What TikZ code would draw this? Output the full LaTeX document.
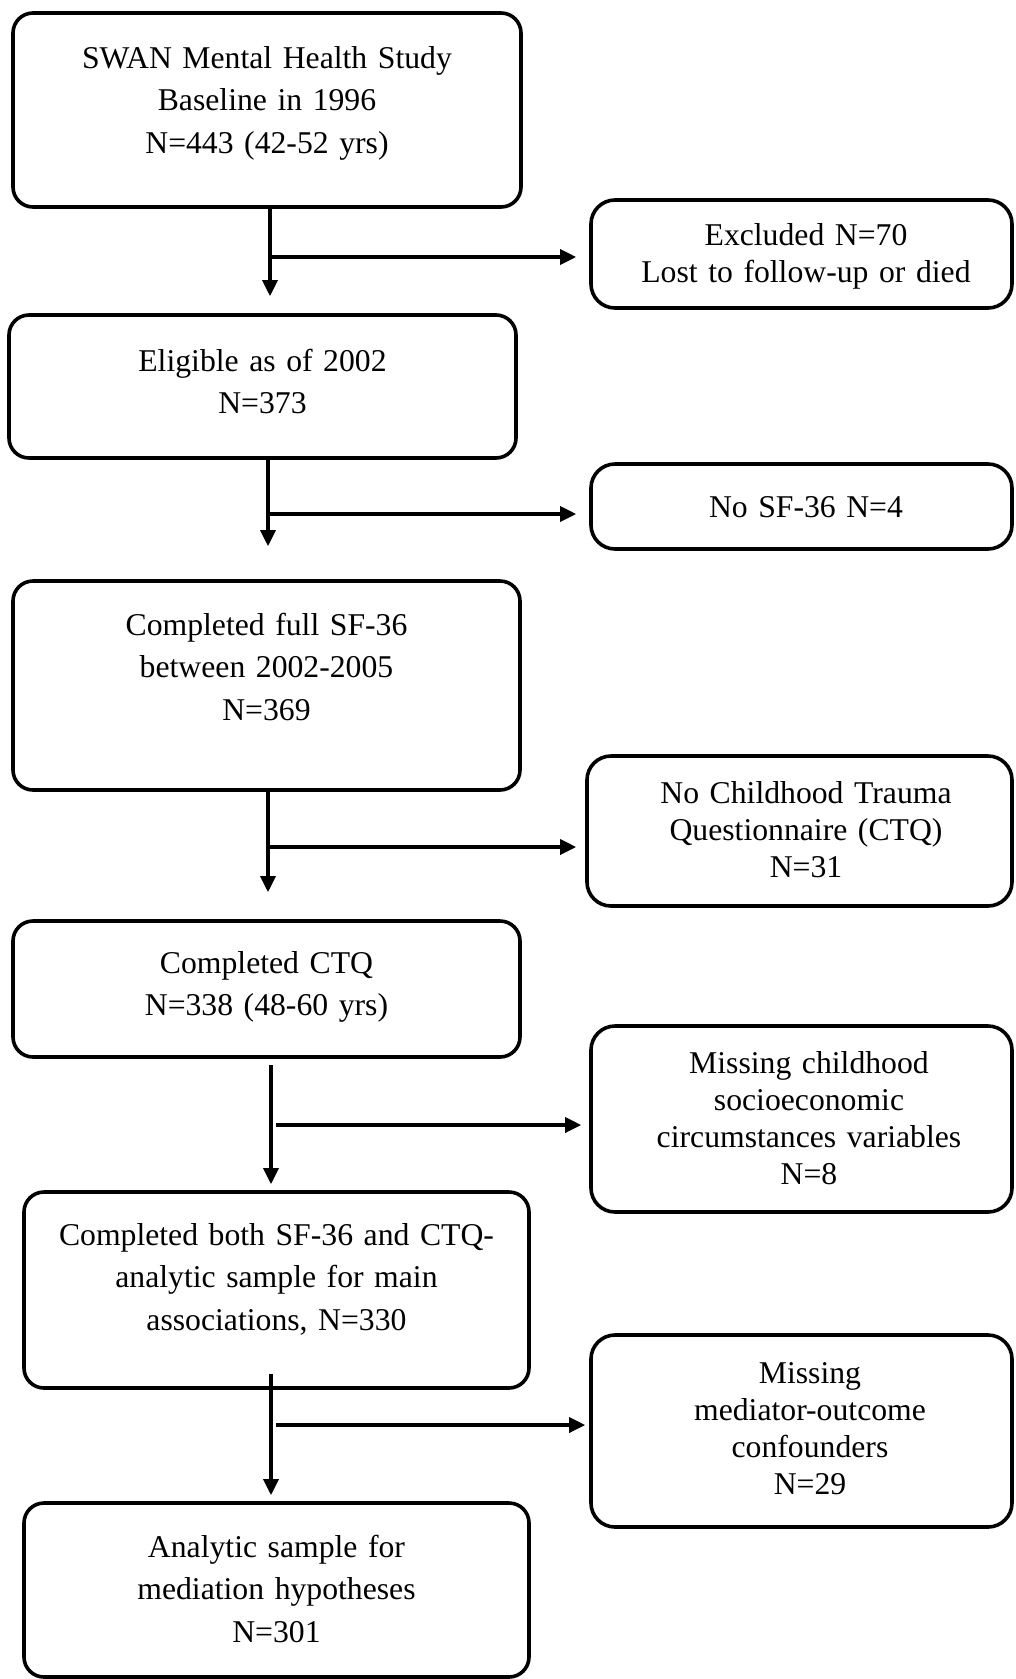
\documentclass[tikz,border=0pt]{standalone}
\usepackage{fontspec}
\setmainfont{Liberation Serif}
\usetikzlibrary{arrows.meta,calc}
\begin{document}
\begin{tikzpicture}[x=1pt,y=-1pt,
  box/.style={draw, line width=3.6pt, inner sep=0pt},
  lbox/.style={box, rounded corners=20pt},
  rbox/.style={box, rounded corners=24pt},
  ltxt/.style={anchor=base, align=center, inner sep=0pt, text width=500pt,
    font=\fontsize{31.7}{42.5}\selectfont},
  rtxt/.style={anchor=base, align=center, inner sep=0pt, text width=420pt,
    font=\fontsize{31.7}{37}\selectfont},
  arr/.style={line width=3.4pt, -{Triangle[length=16pt,width=15pt]}}]
\useasboundingbox (0,0) rectangle (1015,1679);

% main column
\node[lbox, minimum width=508pt, minimum height=194pt] (b1) at (267,110) {};
\node[lbox, minimum width=507pt, minimum height=143pt] (b2) at (262.5,386.5) {};
\node[lbox, minimum width=507pt, minimum height=209pt] (b3) at (266.5,685.5) {};
\node[lbox, minimum width=507pt, minimum height=136pt] (b4) at (266.5,989) {};
\node[lbox, minimum width=505pt, minimum height=196pt] (b5) at (276.5,1290) {};
\node[lbox, minimum width=505pt, minimum height=174pt] (b6) at (276.5,1590) {};

\node[ltxt] (t1) at (267,68) {SWAN Mental Health Study\\Baseline in 1996\\N=443 (42-52 yrs)};
\node[ltxt] (t2) at (262.5,371) {Eligible as of 2002\\N=373};
\node[ltxt] (t3) at (266.5,635) {Completed full SF-36\\between 2002-2005\\N=369};
\node[ltxt] (t4) at (266.5,973) {Completed CTQ\\N=338 (48-60 yrs)};
\node[ltxt] (t5) at (276.5,1245) {Completed both SF-36 and CTQ-\\analytic sample for main\\associations, N=330};
\node[ltxt] (t6) at (276.5,1557) {Analytic sample for\\mediation hypotheses\\N=301};

% exclusion column
\node[rbox, minimum width=421pt, minimum height=108pt] (ex) at (801.5,254) {};
\node[rbox, minimum width=421pt, minimum height=85pt] (ns) at (801.5,506.5) {};
\node[rbox, minimum width=425pt, minimum height=150pt] (ctq) at (799.5,831) {};
\node[rbox, minimum width=421pt, minimum height=186pt] (ses) at (801.5,1119) {};
\node[rbox, minimum width=421pt, minimum height=192pt] (med) at (801.5,1431) {};

\node[rtxt] (tex) at (806,245) {Excluded N=70\\Lost to follow-up or died};
\node[rtxt] (tns) at (806,517) {No SF-36 N=4};
\node[rtxt] (tctq) at (806,803) {No Childhood Trauma\\Questionnaire (CTQ)\\N=31};
\node[rtxt] (tses) at (809,1073) {Missing childhood\\socioeconomic\\circumstances variables\\N=8};
\node[rtxt] (tmed) at (810,1383) {Missing\\mediator-outcome\\confounders\\N=29};

% branch points
\coordinate (j1) at (270,257);
\coordinate (j2) at (268,514);
\coordinate (j3) at (268,847);
\coordinate (j4) at (276,1125);
\coordinate (j5) at (276,1425);
\coordinate (v4) at (271,1125);
\coordinate (v5) at (271,1425);

% connectors
\draw[arr] (b1.south -| j1) -- ($(b2.north -| j1)+(0,-17)$);
\draw[arr] (j1) -- ($(j1 -| ex.west)+(-13,0)$);

\draw[arr] (b2.south -| j2) -- ($(b3.north -| j2)+(0,-33)$);
\draw[arr] (j2) -- ($(j2 -| ns.west)+(-13,0)$);

\draw[arr] (b3.south -| j3) -- ($(b4.north -| j3)+(0,-27)$);
\draw[arr] (j3) -- ($(j3 -| ctq.west)+(-9,0)$);

\draw[arr] ($(b4.south -| v4)+(0,6)$) -- ($(b5.north -| v4)+(0,-6)$);
\draw[arr] (j4) -- ($(j4 -| ses.west)+(-8,0)$);

\draw[arr] ($(b5.south -| v5)+(0,-16)$) -- ($(b6.north -| v5)+(0,-6)$);
\draw[arr] (j5) -- ($(j5 -| med.west)+(-4,0)$);
\end{tikzpicture}
\end{document}
